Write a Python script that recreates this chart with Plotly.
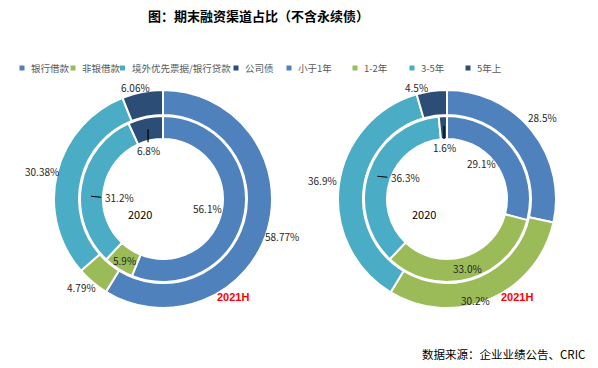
import math
import plotly.graph_objects as go

# ---------------- data ----------------
left_labels = ["银行借款", "非银借款", "境外优先票据/银行贷款", "公司债"]
left_2021h = [58.77, 4.79, 30.38, 6.06]   # outer ring
left_2020 = [56.1, 5.9, 31.2, 6.8]        # inner ring

right_labels = ["小于1年", "1-2年", "3-5年", "5年上"]
right_2021h = [28.5, 30.2, 36.9, 4.5]     # outer ring
right_2020 = [29.1, 33.0, 36.3, 1.6]      # inner ring

colors = ["#4F81BD", "#9BBB59", "#4BACC6", "#2C4D75"]

title_text = "图：期末融资渠道占比（不含永续债）"
source_text = "数据来源：企业业绩公告、CRIC"
inner_name = "2020"
outer_name = "2021H"

# ---------------- layout constants ----------------
W, H = 598, 368
FONT = "Noto Sans CJK SC"
R_OUT, HOLE_OUT = 109, 84
R_IN, HOLE_IN = 83, 60
centers = [(163, 199), (447, 199)]

# label placement (radius px, angle offset deg) per slice
lbl_left_out = [(125, 1.9), (120, 2.4), (124, -0.5), (115, -2.7)]
lbl_left_in = [(45, 0.6), (73, -0.4), (44, -7.1), (51, -4.8)]
lbl_right_out = [(126, -1.8), (105, 7.5), (125.5, 1.0), (116, -7.4)]
lbl_right_in = [(49, -8.2), (72, -0.4), (47, 8.7), (52, -0.4)]
leaders_in = {2: "h", 3: "v"}

def px(x):
    return x / W

def py(y):
    return 1 - y / H

fig = go.Figure()
annotations = []
shapes = []

def add_ring(cx, cy, r, hole, labels, values, name):
    fig.add_trace(go.Pie(
        labels=labels, values=values, name=name,
        domain=dict(x=[px(cx - r), px(cx + r)], y=[py(cy + r), py(cy - r)]),
        hole=hole / r, sort=False, direction="clockwise", rotation=0,
        marker=dict(colors=colors, line=dict(color="white", width=2)),
        textinfo="none", hoverinfo="label+value", showlegend=False,
    ))

def add_labels(cx, cy, values, cfg, decimals, leaders=None):
    total = sum(values)
    cum = 0
    for i, v in enumerate(values):
        mid = (cum + v / 2) / total * 360
        cum += v
        r, da = cfg[i]
        th = math.radians(mid + da)
        x = cx + r * math.sin(th)
        y = cy - r * math.cos(th)
        annotations.append(dict(
            x=px(x), y=py(y), xref="paper", yref="paper",
            text=f"{v:.{decimals}f}%", showarrow=False,
            xanchor="center", yanchor="middle",
            font=dict(family=FONT, size=10, color="#262626"),
        ))
        if leaders and i in leaders:
            if leaders[i] == "v":
                x0, y0, x1, y1 = x, y - 21, x, y - 8
            else:
                x0, y0, x1, y1 = x - 28, y - 1, x - 18, y
            shapes.append(dict(type="line", xref="paper", yref="paper",
                               x0=px(x0), y0=py(y0), x1=px(x1), y1=py(y1),
                               line=dict(color="black", width=1.2)))

for (cx, cy), labels, outer, inner, lo, li, dec_out in [
    (centers[0], left_labels, left_2021h, left_2020, lbl_left_out, lbl_left_in, 2),
    (centers[1], right_labels, right_2021h, right_2020, lbl_right_out, lbl_right_in, 1),
]:
    add_ring(cx, cy, R_OUT, HOLE_OUT, labels, outer, outer_name)
    add_ring(cx, cy, R_IN, HOLE_IN, labels, inner, inner_name)
    add_labels(cx, cy, outer, lo, dec_out)
    add_labels(cx, cy, inner, li, 1, leaders_in)
    annotations.append(dict(x=px(cx - 23), y=py(cy + 15), xref="paper", yref="paper",
                            text=inner_name, showarrow=False, xanchor="center", yanchor="middle",
                            font=dict(family=FONT, size=11, color="black")))
    annotations.append(dict(x=px(cx + 70), y=py(cy + 98), xref="paper", yref="paper",
                            text=f"<b>{outer_name}</b>", showarrow=False, xanchor="center", yanchor="middle",
                            font=dict(family="Liberation Sans", size=11, color="#FF0000")))

# legends (manual)
legend_x = [[22, 73, 122.5, 236], [289, 355, 412, 468]]
LEG_Y = 68
for labs, xs in [(left_labels, legend_x[0]), (right_labels, legend_x[1])]:
    for lab, col, x in zip(labs, colors, xs):
        shapes.append(dict(type="rect", xref="paper", yref="paper",
                           x0=px(x - 2.5), x1=px(x + 2.5), y0=py(LEG_Y + 2.5), y1=py(LEG_Y - 2.5),
                           fillcolor=col, line=dict(width=0)))
        annotations.append(dict(x=px(x + 7), y=py(LEG_Y), xref="paper", yref="paper",
                                text=lab, showarrow=False, xanchor="left", yanchor="middle",
                                font=dict(family=FONT, size=9.5, color="#595959")))

annotations.append(dict(x=px(258), y=py(16), xref="paper", yref="paper",
                        text=f"<b>{title_text}</b>", showarrow=False, xanchor="center", yanchor="middle",
                        font=dict(family=FONT, size=13, color="black")))
annotations.append(dict(x=px(587), y=py(354), xref="paper", yref="paper",
                        text=source_text, showarrow=False, xanchor="right", yanchor="middle",
                        font=dict(family=FONT, size=11.5, color="black")))

fig.update_layout(
    width=W, height=H, autosize=False,
    margin=dict(l=0, r=0, t=0, b=0),
    paper_bgcolor="white", plot_bgcolor="white",
    annotations=annotations, shapes=shapes, showlegend=False,
)

fig.write_html(
    "out.html",
    config={"displayModeBar": False},
    post_script="document.documentElement.style.margin='0';document.body.style.margin='0';"
                "document.body.style.overflow='hidden';",
)
